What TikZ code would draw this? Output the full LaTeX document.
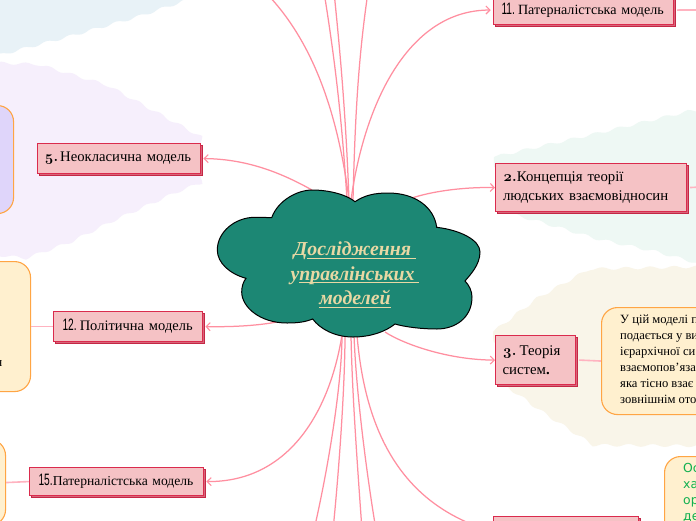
\documentclass[tikz,border=0pt]{standalone}
\usepackage{fontspec}
\setmainfont{Liberation Serif}
\newfontfamily\narrownum[FakeStretch=0.62]{Liberation Sans}
\newfontfamily\oldnum[Numbers=OldStyle]{Latin Modern Roman}
\newfontfamily\greenfont{DejaVu Sans}
\usetikzlibrary{arrows.meta,decorations.pathmorphing,shadows}
\definecolor{conn}{HTML}{FF8FA0}
\definecolor{leafconn}{HTML}{FFB3C0}
\definecolor{boxfill}{HTML}{F5C2C5}
\definecolor{boxline}{HTML}{DA2B4D}
\definecolor{shadowfill}{HTML}{D8657A}
\definecolor{leaffill}{HTML}{FFF0CF}
\definecolor{leafline}{HTML}{FFA544}
\definecolor{cloudfill}{HTML}{1C8774}
\definecolor{titlecol}{HTML}{E8D8A4}
\definecolor{greentext}{HTML}{12B050}
\definecolor{blueback}{HTML}{E8F2F7}
\definecolor{purpleback}{HTML}{F6EFFC}
\definecolor{greenback}{HTML}{EEF8F4}
\definecolor{beigeback}{HTML}{F9F5E9}
\definecolor{purpleleaf}{HTML}{DFD5FA}
\newcommand{\ulin}[1]{\setbox0\hbox{#1}\rlap{\rule[-2.8pt]{\wd0}{1.1pt}}\box0}
\newcommand{\onum}[1]{{\oldnum\bfseries #1}}
\newcommand{\nnum}[1]{{\fontsize{16.5}{19}\selectfont\narrownum #1}}
\tikzset{
 blob/.style={decorate,decoration={snake,amplitude=1.4pt,segment length=24pt}},
 conn/.style={draw=conn,line width=1.25pt,-{Straight Barb[length=4pt,width=8pt,line width=1.1pt]}},
 plainconn/.style={draw=conn,line width=1.25pt},
 leafconn/.style={draw=leafconn,line width=1.6pt},
 mbox/.style={draw=boxline,fill=boxfill,line width=1.1pt,inner sep=0pt,align=left,anchor=north west,font=\fontsize{14.8}{19}\selectfont,text=black,
   general shadow={shadow xshift=2.3pt,shadow yshift=-2.3pt,fill=shadowfill,draw=boxline!90!black,line width=1pt}},
 leaf/.style={draw=leafline,fill=leaffill,line width=1.1pt,rounded corners=16pt,inner sep=0pt,anchor=north west},
 leaftext/.style={anchor=north west,inner sep=0pt,align=left,font=\fontsize{12.6}{16}\selectfont},
}
\begin{document}
\begin{tikzpicture}[x=1pt,y=-1pt]
\clip (0,0) rectangle (696,520);
\fill[white] (0,0) rectangle (696,520);
% background areas
\fill[blob,fill=blueback] (-30,63) -- (67,37) -- (133,18) -- (215,-10) -- (-30,-10) -- cycle;
\fill[blob,fill=purpleback] (-30,62) -- (30,64) -- (100,85) -- (200,140) -- (200,180) -- (173,190) -- (113,217) -- (67,240) -- (23,256) -- (-30,250) -- cycle;
\fill[blob,fill=greenback] (494,157) -- (590,135) -- (681,113) -- (730,110) -- (730,275) -- (650,253) -- (590,240) -- (533,223) -- (493,212) -- cycle;
\fill[blob,fill=beigeback] (493,332) -- (531,303) -- (581,275) -- (730,272) -- (730,448) -- (581,447) -- (535,417) -- (493,387) -- cycle;
% coordinates of the hub and of the free ends
\coordinate (hubA) at (349,200);
\coordinate (hubB) at (347,200);
\coordinate (hubC) at (349,200);
\coordinate (hubD) at (353,200);
\coordinate (hubE) at (351,200);
\coordinate (hubF) at (312,190);
\coordinate (hubG) at (412,198);
\coordinate (hubH) at (385,332);
\coordinate (hubI) at (277,322);
\coordinate (hubJ) at (342,335);
\coordinate (hubK) at (345,335);
\coordinate (hubM) at (351,335);
\coordinate (hubN) at (354,335);
\coordinate (hubO) at (357,335);
\coordinate (topA) at (268,-5);
\coordinate (topB) at (324,-8);
\coordinate (topC) at (334,-8);
\coordinate (topD) at (368,-8);
\coordinate (botA) at (314,530);
\coordinate (botB) at (333,530);
\coordinate (botC) at (362,530);
\coordinate (botD) at (376,530);
\coordinate (edgeA) at (700,10);
\coordinate (edgeB) at (700,187);
% leaves
\node[leaf,fill=purpleleaf,minimum width=60pt,minimum height=108pt] (leafFive) at (-47,105) {};
\node[leaf,minimum width=80pt,minimum height=130pt] (leafTwelve) at (-50,261) {};
\node[leaf,minimum width=60pt,minimum height=86pt] (leafFifteen) at (-55,439) {};
\node[leaf,minimum width=140pt,minimum height=107pt] (leafThree) at (601,307) {};
\node[leaf,minimum width=100pt,minimum height=100pt] (leafBottom) at (664,456) {};
\node[anchor=base east,inner sep=0pt,font=\fontsize{13}{16}\selectfont] (cutA) at (2.5,366) {н};
\node[leaftext] (textThree) at (620,314.5) {У цій моделі п\\подається у ви\\ієрархічної си\\взаємопов'яза\\яка тісно взає\\зовнішнім ото};
\node[leaftext,text=greentext,font=\greenfont\fontsize{12.4}{15.8}\selectfont] (textBottom) at (683,463.5) {Ос\\ха\\ор\\де};
% connectors
\draw[plainconn] (hubA) .. controls (340,130) and (320,50) .. (topA);
\draw[plainconn] (hubB) .. controls (342,120) and (335,60) .. (topB);
\draw[plainconn] (hubC) .. controls (346,120) and (341,60) .. (topC);
\draw[plainconn] (hubD) .. controls (355,120) and (358,60) .. (topD);
\draw[plainconn] (hubJ) .. controls (342,380) and (330,460) .. (botA);
\draw[plainconn] (hubK) .. controls (345,380) and (340,460) .. (botB);
\draw[plainconn] (hubM) .. controls (352,390) and (357,460) .. (botC);
\draw[plainconn] (hubN) .. controls (356,390) and (366,470) .. (botD);
% main boxes
\node[mbox,font=\fontsize{14.1}{19}\selectfont,minimum width=180pt,minimum height=29pt,text width=164pt] (nEleven) at (493,-5) {\mbox{\nnum{11.}\kern3pt Патерналістська модель}};
\node[mbox,font=\fontsize{14.7}{19}\selectfont,minimum width=163pt,minimum height=30pt,text width=149pt] (nFive) at (37,143) {\mbox{\onum{5.}\kern2pt Неокласична модель}};
\node[mbox,minimum width=191pt,minimum height=48pt,text width=176pt] (nTwo) at (495,163) {{\bfseries\onum{2.}}Концепція теорії\\людських взаємовідносин};
\node[mbox,minimum width=80pt,minimum height=49pt,text width=66pt] (nThree) at (495,335) {\onum{3.}\kern3pt Теорія\\систем\textbf{.}};
\node[mbox,font=\fontsize{14.5}{19}\selectfont,minimum width=149pt,minimum height=30pt,text width=131pt] (nTwelve) at (53,311) {\mbox{\nnum{12.}\kern3pt Політична модель}};
\node[mbox,font=\fontsize{13.6}{19}\selectfont,minimum width=174pt,minimum height=28pt,text width=156pt] (nFifteen) at (29,467) {\mbox{\nnum{15.}Патерналістська модель}};
\node[mbox,minimum width=145pt,minimum height=30pt] (nBottom) at (493,516) {};
\draw[conn,shorten >=2.3pt] (hubE) .. controls (365,100) and (410,10) .. (nEleven.west);
\draw[conn,shorten >=2.3pt] (hubF) .. controls (285,175) and (250,159) .. (nFive.east);
\draw[conn] (hubG) .. controls (430,192) and (460,187) .. (nTwo.west);
\draw[conn] (hubH) .. controls (405,345) and (450,360) .. (nThree.west);
\draw[conn,shorten >=2.3pt] (hubI) .. controls (255,326) and (230,327) .. (nTwelve.east);
\draw[conn,shorten >=2.3pt] (hubJ) .. controls (330,410) and (290,482) .. (nFifteen.east);
\draw[plainconn] (hubO) .. controls (365,430) and (400,505) .. (nBottom.west);
\draw[leafconn] (nEleven.east) ++(3,0) -- (edgeA);
\draw[leafconn] (nTwo.east) ++(3,0) -- (edgeB);
\draw[leafconn] (nThree.east) ++(3,0) -- (leafThree.west);
\draw[leafconn] (nTwelve.west) -- (leafTwelve.east);
\draw[leafconn] (nFifteen.west) -- (leafFifteen.east);
% central cloud
\draw[fill=cloudfill,draw=black,line width=1pt] (271.7,217.7)
 .. controls (278,200) and (298,190) .. (312,190)
 .. controls (330,190) and (347,195) .. (355,201.7)
 .. controls (365,195) and (375,193) .. (388,193)
 .. controls (415,193) and (434,207) .. (436.7,227.3)
 .. controls (460,230) and (480,240) .. (480,252)
 .. controls (480,265) and (470,275) .. (465,281)
 .. controls (469,285) and (472,291) .. (472,297)
 .. controls (472,318) and (455,329) .. (437,329)
 .. controls (422,329) and (405,327) .. (395,324)
 .. controls (385,332) and (370,337) .. (353,337)
 .. controls (335,337) and (320,329) .. (312.7,319)
 .. controls (305,322) and (298,323) .. (287,323)
 .. controls (260,323) and (241.7,307) .. (241.7,292)
 .. controls (241.7,287) and (243,282) .. (246,278.3)
 .. controls (230,274) and (217.3,263) .. (217.3,250)
 .. controls (217.3,232) and (235,217.3) .. (255,217.3)
 .. controls (262,217.3) and (267,217.5) .. (271.7,217.7) -- cycle;
\node[inner sep=0pt,align=center,text=titlecol,font=\fontsize{19.8}{24.5}\selectfont\bfseries\itshape] (root) at (355,275) {Д\ulin{ослідження\ }\\у\ulin{правлінських\ }\\\ulin{моделей}};
\end{tikzpicture}
\end{document}
